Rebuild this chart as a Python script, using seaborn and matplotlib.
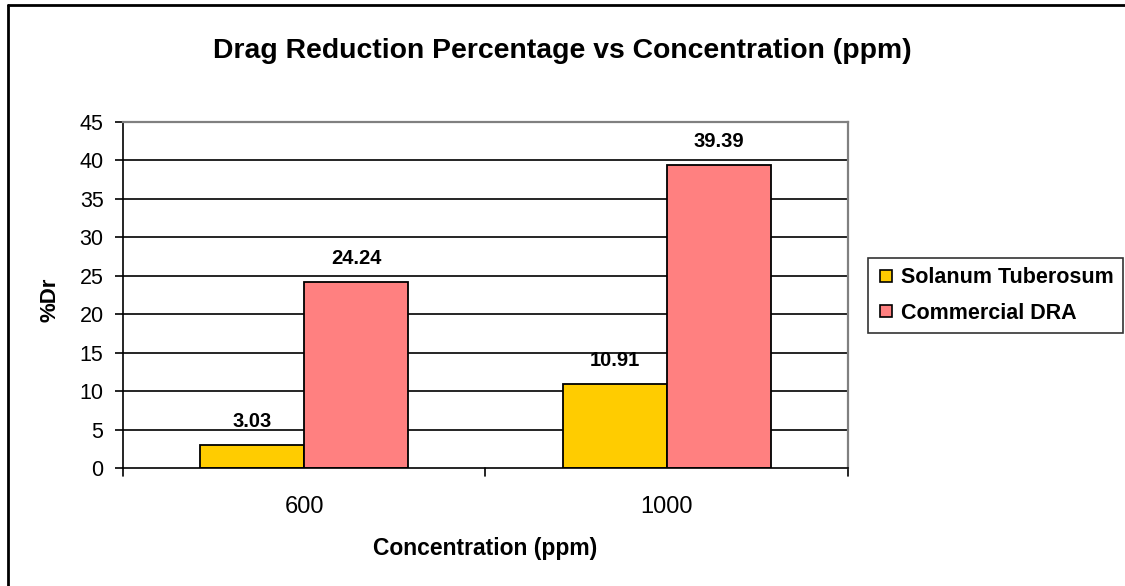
import matplotlib
matplotlib.use("Agg")
import matplotlib.pyplot as plt
import matplotlib.lines as mlines
import pandas as pd
import seaborn as sns

# Data
concentrations = ["600", "1000"]
series_names = ["Solanum Tuberosum", "Commercial DRA"]
solanum_values = [3.03, 10.91]
commercial_values = [24.24, 39.39]
y_ticks = [0, 5, 10, 15, 20, 25, 30, 35, 40, 45]

df = pd.DataFrame({
    "Concentration": concentrations * 2,
    "Series": [series_names[0]] * 2 + [series_names[1]] * 2,
    "Value": solanum_values + commercial_values,
})

sns.set_theme(style="white", rc={
    "text.color": "black",
    "axes.labelcolor": "black",
    "xtick.color": "black",
    "ytick.color": "black",
})
plt.rcParams["font.family"] = ["Liberation Sans", "DejaVu Sans"]

fig = plt.figure(figsize=(11.25, 5.86), dpi=100)
ax = fig.add_axes([0.1093, 0.2014, 0.6445, 0.5904])

palette = {series_names[0]: "#FFCC00", series_names[1]: "#FF8080"}
sns.barplot(data=df, x="Concentration", y="Value", hue="Series",
            order=concentrations, hue_order=series_names, palette=palette,
            width=0.574, gap=0, edgecolor="black", linewidth=1.3,
            saturation=1, ax=ax, legend=False, zorder=3)

ax.set_xlim(-0.5, 1.5)
ax.set_ylim(0, 45)
ax.set_yticks(y_ticks)
ax.set_yticklabels([str(t) for t in y_ticks], fontsize=15.5)
ax.set_xticks([0, 1])
ax.set_xticklabels(concentrations, fontsize=17)
ax.tick_params(axis="x", length=0, pad=20)
ax.tick_params(axis="y", length=6, width=1.2, color="black", direction="out",
               left=True, pad=8)

# Category boundary ticks on the x axis
for xb in [-0.5, 0.5, 1.5]:
    ax.plot([xb, xb], [0, -0.023], transform=ax.get_xaxis_transform(),
            color="black", lw=1.2, clip_on=False)

# Horizontal gridlines
for t in y_ticks[1:-1]:
    ax.axhline(t, color="black", lw=1.2, zorder=1)

for side in ["top", "right"]:
    ax.spines[side].set_color("#808080")
    ax.spines[side].set_linewidth(1.6)
for side in ["left", "bottom"]:
    ax.spines[side].set_color("black")
    ax.spines[side].set_linewidth(1.2)
ax.spines["bottom"].set_zorder(4)

# Value labels
for container in ax.containers:
    for bar in container:
        h = bar.get_height()
        ax.annotate(f"{h:.2f}", (bar.get_x() + bar.get_width() / 2, h),
                    xytext=(0, 10), textcoords="offset points",
                    ha="center", va="bottom", fontsize=14.5, fontweight="bold")

ax.set_xlabel("")
ax.set_ylabel("")
fig.text(0.4311, 1 - 549 / 586, "Concentration (ppm)", ha="center",
         va="center", fontsize=16.5, fontweight="bold")
fig.text(50 / 1125, 1 - 300 / 586, "%Dr", ha="center", va="center",
         rotation=90, fontsize=16, fontweight="bold")

fig.text(0.5, 1 - 51 / 586, "Drag Reduction Percentage vs Concentration (ppm)",
         ha="center", va="center", fontsize=20.4, fontweight="bold")

handles = [mlines.Line2D([], [], marker="s", linestyle="none", markersize=8,
                         markerfacecolor=palette[s], markeredgecolor="black",
                         markeredgewidth=1.2) for s in series_names]
leg = fig.legend(handles, series_names, loc="upper left",
                 bbox_to_anchor=(868 / 1125, 1 - 258 / 586), frameon=True,
                 fancybox=False, edgecolor="black",
                 prop={"weight": "bold", "size": 15.5},
                 handletextpad=0.3, borderpad=0.42, labelspacing=0.68,
                 handlelength=0.8, borderaxespad=0)
leg.get_frame().set_linewidth(1.2)

# Chart area border (left and top edges)
fig.add_artist(mlines.Line2D([8 / 1125, 8 / 1125], [0, 1 - 5 / 586],
                             transform=fig.transFigure, color="black", lw=2))
fig.add_artist(mlines.Line2D([8 / 1125, 1], [1 - 5 / 586, 1 - 5 / 586],
                             transform=fig.transFigure, color="black", lw=2))

fig.savefig("out.png", dpi=100, facecolor="white")
